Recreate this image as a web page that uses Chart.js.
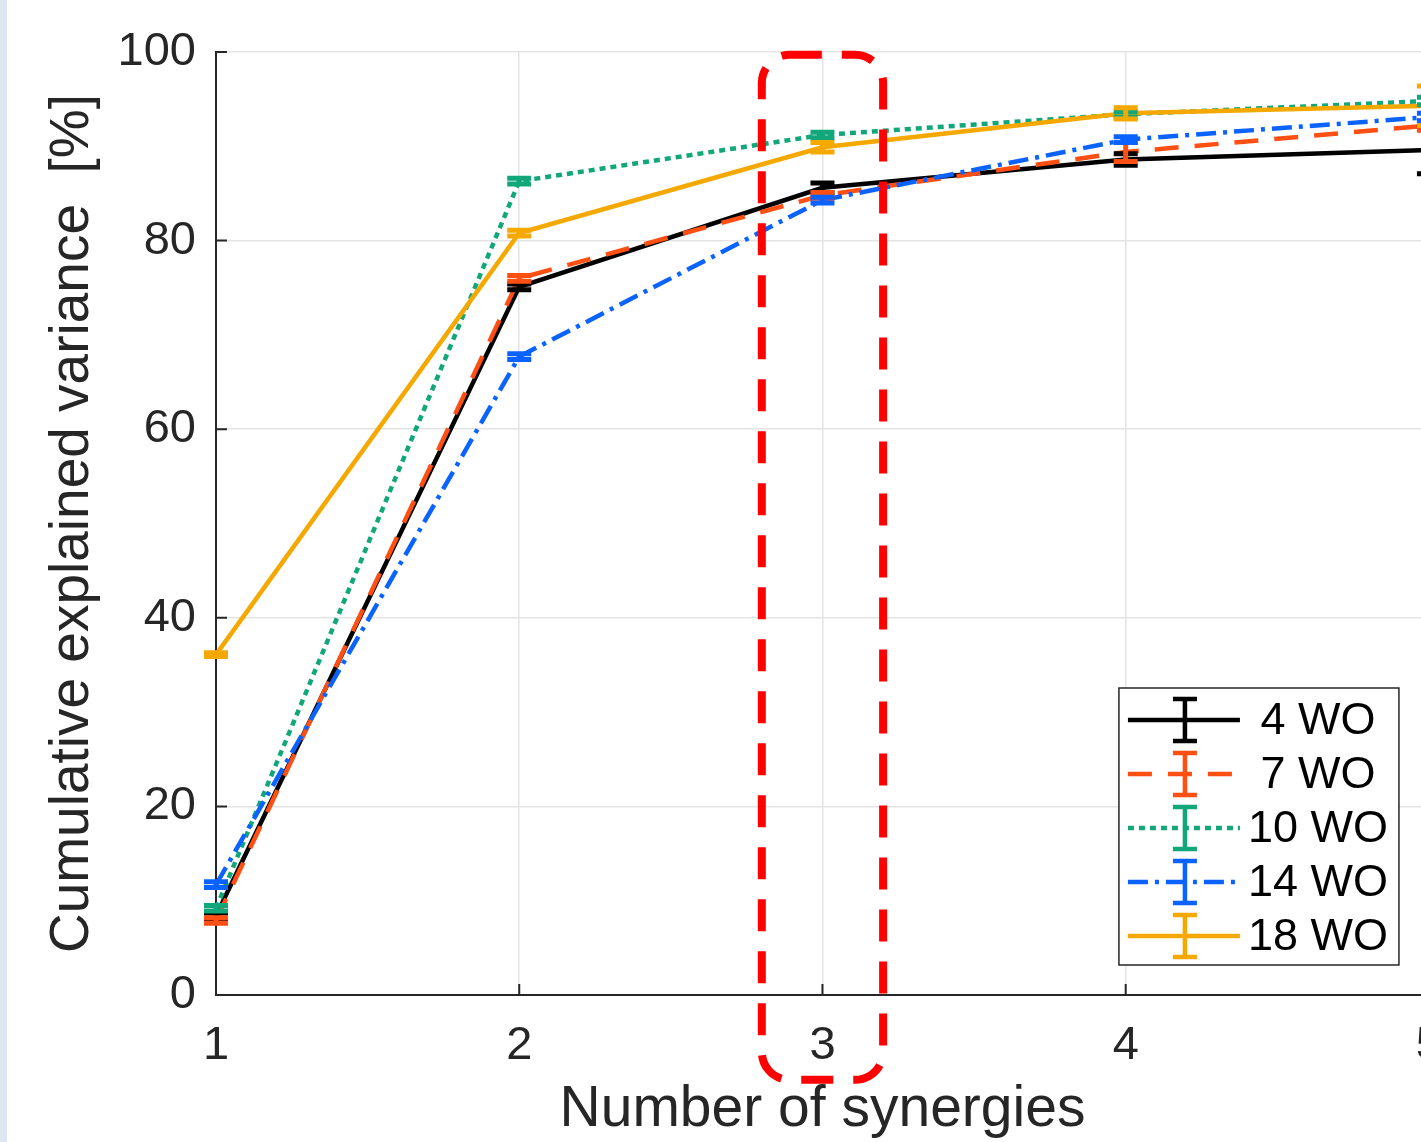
<!DOCTYPE html>
<html>
<head>
<meta charset="utf-8">
<script src="https://cdn.jsdelivr.net/npm/chart.js@4.4.0/dist/chart.umd.min.js"></script>
<style>
  html, body { margin: 0; padding: 0; background: #fff; overflow: hidden; width: 1421px; height: 1142px; }
  #strip { position: absolute; left: 0; top: 0; width: 7px; height: 1142px; background: #dde7f4; }
  #wrap { position: absolute; left: 0; top: 0; width: 1465px; height: 1142px; }
</style>
</head>
<body>
<div id="strip"></div>
<div id="wrap"><canvas id="synChart" width="1465" height="1142"></canvas></div>
<script>
const synergies = [1, 2, 3, 4, 5];
const wo4 = [8.4, 75.1, 85.6, 88.6, 89.6];
const wo4Err = [0.3, 0.3, 0.5, 0.6, 2.5];
const wo7 = [7.9, 76.0, 84.8, 89.4, 92.2];
const wo7Err = [0.3, 0.3, 0.3, 1.0, 0.5];
const wo10 = [9.2, 86.3, 91.2, 93.4, 94.8];
const wo10Err = [0.3, 0.3, 0.3, 0.3, 0.4];
const wo14 = [11.7, 67.7, 84.3, 90.7, 93.1];
const wo14Err = [0.3, 0.3, 0.3, 0.3, 0.4];
const wo18 = [36.1, 80.8, 89.9, 93.5, 94.3];
const wo18Err = [0.2, 0.3, 0.5, 0.6, 2.1];
const yTicks = [0, 20, 40, 60, 80, 100];
const seriesLabels = ['4 WO', '7 WO', '10 WO', '14 WO', '18 WO'];

// highlight box around 3 synergies (data units)
const boxX = [2.8, 3.2];
const boxY = [-9.0, 99.7];

const fontFamily = '"Liberation Sans", Arial, sans-serif';
const textColor = '#262626';

function pts(vals) {
  return vals.map((v, i) => ({ x: synergies[i], y: v }));
}

const series = [
  { label: seriesLabels[0], vals: wo4, err: wo4Err, color: '#000000', dash: [] },
  { label: seriesLabels[1], vals: wo7, err: wo7Err, color: '#ff4f12', dash: [24, 16] },
  { label: seriesLabels[2], vals: wo10, err: wo10Err, color: '#12a77a', dash: [6, 5] },
  { label: seriesLabels[3], vals: wo14, err: wo14Err, color: '#0a62ff', dash: [20, 7, 4, 7] },
  { label: seriesLabels[4], vals: wo18, err: wo18Err, color: '#f5a900', dash: [] }
];

const errorBars = {
  id: 'errorBars',
  afterDatasetsDraw(chart) {
    const { ctx, scales: { x, y } } = chart;
    ctx.save();
    ctx.setLineDash([]);
    ctx.lineWidth = 5;
    series.forEach(s => {
      ctx.strokeStyle = s.color;
      s.vals.forEach((v, i) => {
        const px = x.getPixelForValue(synergies[i]);
        const top = y.getPixelForValue(v + s.err[i]);
        const bot = y.getPixelForValue(v - s.err[i]);
        ctx.beginPath();
        ctx.moveTo(px, top); ctx.lineTo(px, bot);
        ctx.moveTo(px - 12, top); ctx.lineTo(px + 12, top);
        ctx.moveTo(px - 12, bot); ctx.lineTo(px + 12, bot);
        ctx.stroke();
      });
    });
    ctx.restore();
  }
};

const extras = {
  id: 'extras',
  afterDraw(chart) {
    const { ctx, chartArea: ca, scales: { x, y } } = chart;
    ctx.save();

    // inward ticks
    ctx.strokeStyle = textColor;
    ctx.lineWidth = 2;
    ctx.beginPath();
    yTicks.forEach(t => {
      const py = y.getPixelForValue(t);
      ctx.moveTo(ca.left, py); ctx.lineTo(ca.left + 11, py);
    });
    synergies.forEach(t => {
      const px = x.getPixelForValue(t);
      ctx.moveTo(px, ca.bottom); ctx.lineTo(px, ca.bottom - 11);
    });
    ctx.stroke();

    // legend
    const lw = 280, lh = 277;
    const lx = ca.right - 30 - lw, ly = ca.bottom - 30 - lh;
    ctx.fillStyle = '#fff';
    ctx.fillRect(lx, ly, lw, lh);
    ctx.strokeStyle = '#262626';
    ctx.lineWidth = 1.5;
    ctx.strokeRect(lx, ly, lw, lh);
    ctx.font = '45px ' + fontFamily;
    ctx.textAlign = 'center';
    ctx.textBaseline = 'middle';
    series.forEach((s, i) => {
      const cy = ly + 32 + i * 54;
      ctx.strokeStyle = s.color;
      ctx.lineWidth = 4.5;
      ctx.setLineDash(s.dash);
      ctx.beginPath();
      ctx.moveTo(lx + 9, cy); ctx.lineTo(lx + 121, cy);
      ctx.stroke();
      ctx.setLineDash([]);
      const ex = lx + 66;
      ctx.beginPath();
      ctx.moveTo(ex, cy - 21); ctx.lineTo(ex, cy + 21);
      ctx.moveTo(ex - 12, cy - 21); ctx.lineTo(ex + 12, cy - 21);
      ctx.moveTo(ex - 12, cy + 21); ctx.lineTo(ex + 12, cy + 21);
      ctx.stroke();
      ctx.fillStyle = '#000';
      ctx.fillText(s.label, lx + 199, cy + 2);
    });

    // red dashed highlight box
    const bx0 = x.getPixelForValue(boxX[0]), bx1 = x.getPixelForValue(boxX[1]);
    const by0 = y.getPixelForValue(boxY[1]), by1 = y.getPixelForValue(boxY[0]);
    ctx.strokeStyle = '#ff0000';
    ctx.lineWidth = 8;
    ctx.setLineDash([32, 20]);
    ctx.beginPath();
    ctx.roundRect(bx0, by0, bx1 - bx0, by1 - by0, 28);
    ctx.stroke();
    ctx.restore();
  }
};

const ctx = document.getElementById('synChart').getContext('2d');

const synChart = new Chart(ctx, {
  type: 'line',
  data: {
    datasets: series.map((s, i) => ({
      label: s.label,
      data: pts(s.vals),
      borderColor: s.color,
      backgroundColor: s.color,
      borderDash: s.dash,
      borderWidth: 4.5,
      pointRadius: 0,
      tension: 0,
      fill: false,
      order: series.length - i  // later series drawn on top
    }))
  },
  options: {
    responsive: false,
    animation: false,
    layout: { padding: { top: 52, right: 31, left: 0, bottom: 0 }, autoPadding: false },
    plugins: { legend: { display: false }, tooltip: { enabled: false } },
    scales: {
      x: {
        type: 'linear',
        min: 1,
        max: 5,
        afterFit(scale) { scale.height = 147; },
        ticks: { stepSize: 1, padding: 23, color: textColor, font: { family: fontFamily, size: 47 } },
        grid: { color: '#e4e4e4', lineWidth: 1.5, drawTicks: false },
        border: { color: textColor, width: 2 },
        title: {
          display: true,
          text: 'Number of synergies',
          color: textColor,
          font: { family: fontFamily, size: 57 },
          padding: { bottom: -2 }
        }
      },
      y: {
        min: 0,
        max: 100,
        afterFit(scale) { scale.width = 216; },
        afterBuildTicks(scale) { scale.ticks = yTicks.map(v => ({ value: v })); },
        ticks: { padding: 20, color: textColor, font: { family: fontFamily, size: 47 } },
        grid: { color: '#e4e4e4', lineWidth: 1.5, drawTicks: false },
        border: { color: textColor, width: 2 },
        title: {
          display: true,
          text: 'Cumulative explained variance  [%]',
          color: textColor,
          font: { family: fontFamily, size: 55 },
          padding: { top: 40 }
        }
      }
    }
  },
  plugins: [errorBars, extras]
});
</script>
</body>
</html>
